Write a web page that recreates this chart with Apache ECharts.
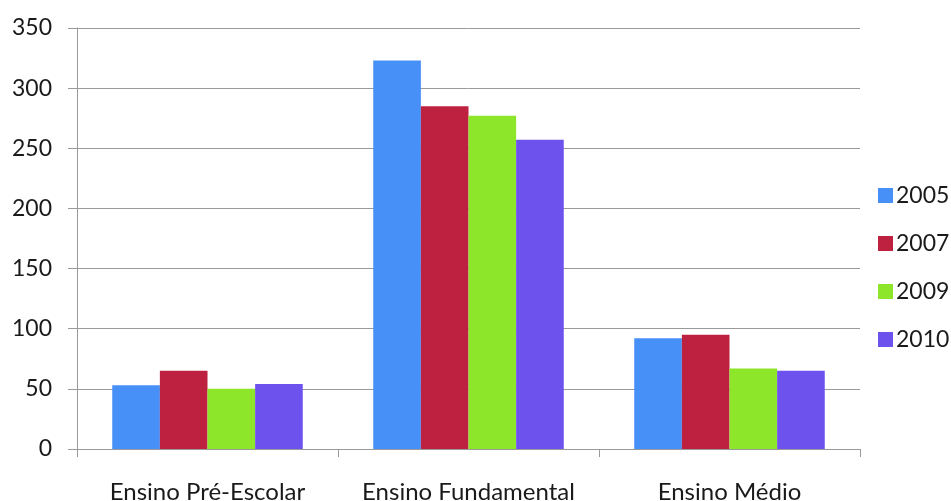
<!DOCTYPE html>
<html>
<head>
<meta charset="utf-8">
<script src="https://cdn.jsdelivr.net/npm/echarts@6/dist/echarts.min.js"></script>
<style>
  html, body { margin: 0; padding: 0; background: #fff; }
  #chart { width: 951px; height: 501px; }
</style>
</head>
<body>
<div id="chart"></div>
<script>
// Education levels and yearly values
const categories = ['Ensino Pré-Escolar', 'Ensino Fundamental', 'Ensino Médio'];
const years = ['2005', '2007', '2009', '2010'];
const values2005 = [53, 323, 92];
const values2007 = [65, 285, 95];
const values2009 = [50, 277, 67];
const values2010 = [54, 257, 65];
const yTicks = [0, 50, 100, 150, 200, 250, 300, 350];

const colors = ['#4790f7', '#be2040', '#8ee62a', '#6e52ee'];
const seriesValues = [values2005, values2007, values2009, values2010];
const font = 'Lato, "Open Sans", sans-serif';

const chart = echarts.init(document.getElementById('chart'), null, { renderer: 'canvas' });
chart.setOption({
  animation: false,
  color: colors,
  grid: { left: 77, right: 91, top: 28, bottom: 52, containLabel: false, outerBoundsMode: 'none' },
  legend: {
    orient: 'vertical',
    left: 873,
    top: 179,
    itemWidth: 15,
    itemHeight: 15,
    itemGap: 25,
    icon: 'rect',
    textStyle: { fontFamily: font, fontSize: 23, color: '#1a1a1a', padding: [0, 0, 0, -2] },
    data: years
  },
  xAxis: {
    type: 'category',
    data: categories,
    axisLine: { lineStyle: { color: '#9a9a9a', width: 1 } },
    axisTick: { show: true, length: 8, lineStyle: { color: '#9a9a9a' } },
    axisLabel: { interval: 0, hideOverlap: false, fontFamily: font, fontSize: 24, color: '#1a1a1a', margin: 31 }
  },
  yAxis: {
    type: 'value',
    min: yTicks[0],
    max: yTicks[yTicks.length - 1],
    interval: 50,
    axisLine: { show: true, lineStyle: { color: '#9a9a9a', width: 1 } },
    axisTick: { show: true, length: 9, lineStyle: { color: '#9a9a9a' } },
    splitLine: { lineStyle: { color: '#9a9a9a', width: 1 } },
    axisLabel: { fontFamily: font, fontSize: 23, color: '#1a1a1a', margin: 25 }
  },
  series: years.map((y, i) => ({
    name: y,
    type: 'bar',
    data: seriesValues[i],
    barGap: '0%',
    barCategoryGap: '27%'
  }))
});
</script>
</body>
</html>
